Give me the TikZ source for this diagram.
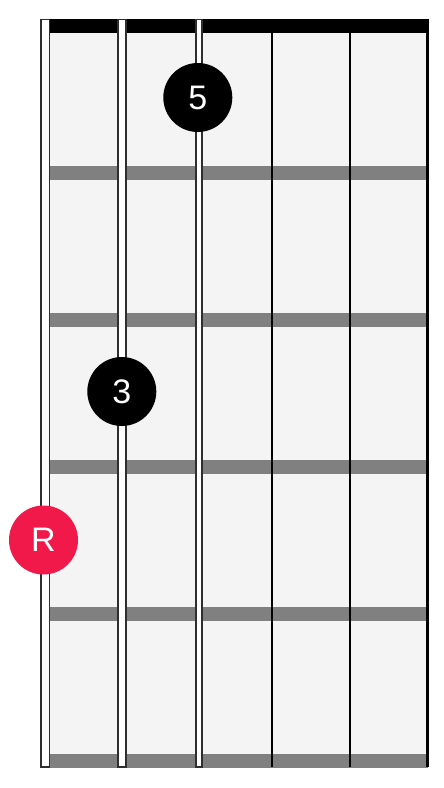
\documentclass[tikz,border=0pt]{standalone}
\usepackage{fontspec}
\setmainfont{Liberation Sans}
\definecolor{boardbg}{HTML}{F4F4F4}
\definecolor{fretgray}{HTML}{808080}
\definecolor{rootred}{HTML}{F0194A}
\definecolor{stroke}{HTML}{2E2E2E}
\begin{document}
\begin{tikzpicture}[x=1pt,y=-1pt,
  fretbar/.style={fill=fretgray,draw=none},
  openstring/.style={fill=white,draw=stroke,line width=1.6pt},
  plainstring/.style={draw=black,line width=2.2pt},
  dotnote/.style={circle,fill=black,text=white,minimum size=69pt,inner sep=0pt,font=\fontsize{34}{34}\selectfont},
  rootnote/.style={circle,fill=rootred,text=white,minimum size=69pt,inner sep=0pt,font=\fontsize{34}{34}\selectfont}]
\useasboundingbox (0,0) rectangle (444,788);
% board
\fill[boardbg] (50,33) rectangle (428,755);
% frets
\foreach \k in {0,1,2,3,4} {
  \fill[fretbar] (50,166+147*\k) rectangle (428,179.5+147*\k);
}
% nut
\fill[black] (50,19) rectangle (429,33);
% plain strings
\draw[plainstring] (272.3,19) -- (272.3,767);
\draw[plainstring] (350,19) -- (350,767);
\draw[plainstring] (427.5,19) -- (427.5,767);
% wound strings
\draw[openstring] (40.7,19.5) rectangle (49.3,767);
\draw[openstring] (118,19.5) rectangle (126,767);
\draw[openstring] (196,19.5) rectangle (202,767);
% notes
\node[dotnote] (n5) at (197.8,97.5) {5};
\node[dotnote] (n3) at (121.8,391.5) {3};
\node[rootnote] (nR) at (43.5,540) {R};
\end{tikzpicture}
\end{document}
